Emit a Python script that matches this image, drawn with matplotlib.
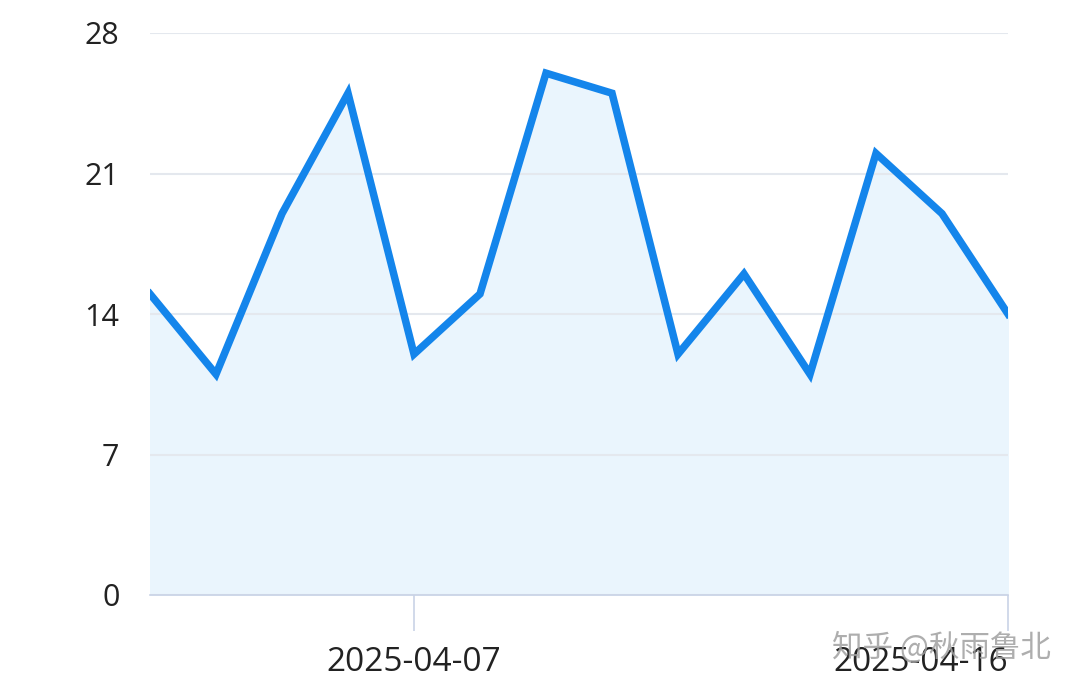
import matplotlib.pyplot as plt
import numpy as np

# data
dates = ["2025-04-03", "2025-04-04", "2025-04-05", "2025-04-06", "2025-04-07",
         "2025-04-08", "2025-04-09", "2025-04-10", "2025-04-11", "2025-04-12",
         "2025-04-13", "2025-04-14", "2025-04-15", "2025-04-16"]
values = [15, 11, 19, 25, 12, 15, 26, 25, 12, 16, 11, 22, 19, 14]
yticks = [0, 7, 14, 21, 28]
xtick_labels = ["2025-04-07", "2025-04-16"]

plt.rcParams['font.family'] = ['Open Sans', 'Noto Sans CJK SC', 'DejaVu Sans']

fig = plt.figure(figsize=(10.8, 6.92), dpi=100)
ax = fig.add_axes([150/1080, 1 - 595/692, 858/1080, 562/692])

x = np.arange(len(values))
ax.fill_between(x, values, 0, color="#eaf5fd", zorder=1)
ax.plot(x, values, color="#1485eb", linewidth=5.4, solid_joinstyle="miter", zorder=3)

ax.set_xlim(0, len(values) - 1)
ax.set_ylim(0, 28)

ax.set_yticks(yticks)
ax.set_yticklabels([str(v) for v in yticks])
ax.grid(axis="y", color="#e4e8ee", linewidth=1.5, zorder=0)

ax.set_xticks([dates.index(d) for d in xtick_labels])
ax.set_xticklabels(xtick_labels)
# last label sits inside the canvas
ax.get_xticklabels()[-1].set_horizontalalignment("right")

for s in ["top", "right", "left"]:
    ax.spines[s].set_visible(False)
ax.spines["bottom"].set_color("#c9d3e6")
ax.spines["bottom"].set_linewidth(1.2)

ax.tick_params(axis="y", length=0, pad=22, labelsize=22, labelcolor="#222222")
ax.tick_params(axis="x", length=26, width=1.2, color="#c9d3e6", pad=11,
               labelsize=24, labelcolor="#222222")

# watermark
fig.text(0.973, 0.064, "知乎 @秋雨鲁北", ha="right", va="center", fontsize=22,
         color="#a0a0a0", alpha=0.85, family=['Noto Sans CJK SC', 'DejaVu Sans'])

fig.savefig("out.png", dpi=100)
